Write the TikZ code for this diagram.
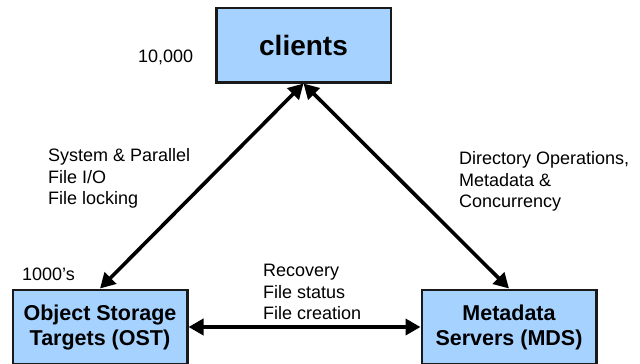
\documentclass[tikz,border=0pt]{standalone}
\usepackage{fontspec}
\setmainfont{Liberation Sans}
\usetikzlibrary{arrows.meta}
\definecolor{boxblue}{RGB}{166,210,255}
\definecolor{boxline}{RGB}{25,25,25}
\tikzset{
  unitbox/.style={draw=boxline, fill=boxblue, line width=2.5pt, inner sep=0pt,
    minimum width=174.5pt, minimum height=74.5pt, align=center,
    font=\fontsize{21.5}{25}\selectfont\bfseries},
  lbl/.style={anchor=base west, align=left, inner sep=0pt,
    font=\fontsize{18}{21.5}\selectfont},
  link/.style={line width=3.6pt, {Triangle[length=15pt,width=16pt]}-{Triangle[length=15pt,width=16pt]}},
}
\begin{document}
\begin{tikzpicture}[x=1pt,y=-1pt]
\useasboundingbox (0,0) rectangle (640,364);
\clip (0,0) rectangle (640,364);
\node[unitbox, font=\fontsize{28}{32}\selectfont\bfseries] (clients) at (303.5,45) {clients};
\node[unitbox] (ost) at (100,327) {Object Storage\\Targets (OST)};
\node[unitbox] (mds) at (509,327) {Metadata\\Servers (MDS)};
\draw[link] (clients.south) -- (ost.north);
\draw[link] (clients.south) -- (mds.north);
\draw[link] (ost.east) -- (mds.west);
\node[lbl] (n10000) at (138,62) {10,000};
\node[lbl] (n1000) at (22,280) {1000’s};
\node[lbl] (io) at (48,204.5) {System \& Parallel\\File I/O\\File locking};
\node[lbl] (md) at (459,207.5) {Directory Operations,\\Metadata \&\\Concurrency};
\node[lbl] (rec) at (263,319.5) {Recovery\\File status\\File creation};
\end{tikzpicture}
\end{document}
